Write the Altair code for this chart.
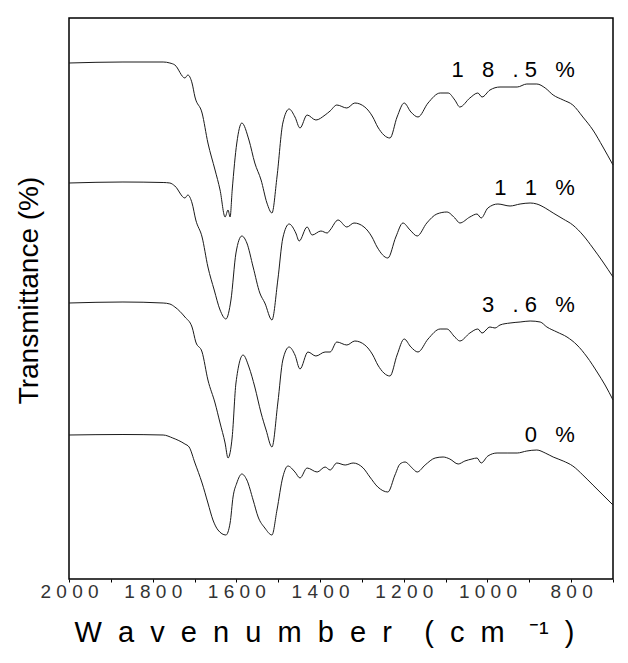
import altair as alt
import pandas as pd

NB = "\u00a0"
FONT = "Liberation Sans"

# ---- series data (wavenumber in cm-1, offset transmittance, arbitrary units) ----
wn_185 = [2000, 1871, 1775, 1759, 1747, 1723, 1716, 1706, 1699, 1682, 1668, 1651, 1639, 1627, 1620,
          1615, 1610, 1599, 1587, 1570, 1556, 1541, 1527, 1515, 1503, 1489, 1474, 1460, 1448, 1431,
          1410, 1388, 1376, 1360, 1336, 1317, 1293, 1274, 1262, 1233, 1216, 1199, 1183, 1166, 1142,
          1113, 1094, 1078, 1066, 1042, 1023, 1013, 994, 970, 946, 929, 906, 882, 862, 843,
          819, 796, 772, 748, 724, 700]
t_185 = [51.7, 51.8, 51.8, 51.7, 51.5, 50.2, 50.5, 49.7, 48.3, 46.7, 43.7, 41.0, 39.0, 36.3, 37.0,
         36.3, 39.0, 43.7, 45.7, 44.0, 41.7, 40.0, 37.7, 36.7, 40.3, 45.7, 47.1, 46.3, 45.2, 46.5,
         46.0, 46.5, 46.9, 47.5, 47.2, 47.7, 47.3, 46.3, 45.3, 44.2, 46.3, 47.7, 46.8, 46.3, 47.7,
         48.7, 48.7, 48.0, 47.3, 48.2, 48.7, 48.3, 49.0, 49.3, 49.3, 49.3, 49.6, 49.6, 49.2, 48.5,
         48.0, 47.5, 46.3, 45.0, 43.3, 41.5]

wn_11 = [2000, 1871, 1775, 1759, 1747, 1723, 1716, 1706, 1697, 1682, 1668, 1653, 1639, 1625, 1613,
         1601, 1587, 1575, 1560, 1544, 1532, 1515, 1501, 1489, 1474, 1458, 1450, 1431, 1419, 1398,
         1383, 1376, 1357, 1336, 1319, 1295, 1276, 1264, 1238, 1219, 1202, 1185, 1168, 1145, 1121,
         1097, 1078, 1066, 1042, 1025, 1015, 999, 975, 946, 922, 898, 882, 862, 843, 819,
         796, 772, 748, 724, 700]
t_11 = [39.7, 39.8, 39.75, 39.7, 39.4, 38.2, 38.5, 37.7, 36.0, 34.3, 31.3, 29.0, 27.0, 26.1, 28.0,
        32.7, 34.4, 33.7, 31.3, 28.7, 27.7, 26.0, 30.0, 34.2, 35.6, 34.7, 33.9, 35.3, 34.5, 34.9,
        34.7, 35.0, 36.0, 35.3, 35.7, 35.3, 34.3, 33.3, 32.2, 34.3, 35.7, 35.0, 34.4, 35.7, 36.6,
        36.8, 36.2, 35.7, 36.3, 36.6, 36.2, 37.2, 37.6, 37.4, 37.6, 37.7, 37.6, 37.2, 36.7, 36.1,
        35.5, 34.5, 33.2, 31.8, 30.3]

wn_36 = [2000, 1871, 1775, 1759, 1747, 1723, 1706, 1697, 1682, 1668, 1651, 1639, 1627, 1620, 1610,
         1601, 1584, 1570, 1556, 1541, 1529, 1515, 1501, 1489, 1474, 1460, 1448, 1429, 1410, 1388,
         1376, 1360, 1336, 1317, 1293, 1274, 1262, 1233, 1216, 1199, 1183, 1166, 1142, 1113, 1097,
         1078, 1066, 1042, 1023, 1013, 994, 982, 970, 946, 922, 898, 874, 858, 834, 810,
         786, 762, 738, 719, 700]
t_36 = [27.7, 27.8, 27.7, 27.6, 27.3, 26.3, 25.3, 23.8, 22.8, 20.0, 17.7, 15.7, 13.7, 12.2, 14.3,
        19.7, 22.5, 21.3, 19.3, 16.7, 15.0, 13.3, 17.7, 22.0, 23.3, 22.5, 21.1, 22.8, 22.4, 22.8,
        22.8, 23.8, 23.5, 23.9, 23.5, 22.5, 21.5, 20.4, 22.5, 24.1, 23.3, 22.8, 24.1, 25.1, 25.1,
        24.3, 23.9, 24.7, 25.1, 24.7, 25.3, 25.2, 25.5, 25.7, 25.8, 25.9, 25.8, 25.3, 24.8, 24.3,
        23.5, 22.3, 20.8, 19.5, 18.0]

wn_0 = [2000, 1871, 1775, 1752, 1723, 1713, 1699, 1682, 1668, 1656, 1644, 1625, 1615, 1608, 1599,
        1587, 1575, 1560, 1548, 1532, 1515, 1503, 1489, 1477, 1460, 1448, 1431, 1407, 1388, 1376,
        1360, 1340, 1321, 1297, 1281, 1262, 1238, 1221, 1209, 1197, 1180, 1168, 1149, 1125, 1106,
        1090, 1070, 1054, 1037, 1025, 1015, 999, 977, 953, 929, 906, 882, 862, 843, 819,
        796, 772, 748, 724, 700]
t_0 = [14.5, 14.55, 14.5, 14.2, 13.6, 13.3, 11.7, 9.7, 7.7, 6.0, 5.0, 4.5, 5.7, 8.3, 9.7,
       10.6, 10.0, 8.0, 6.3, 5.2, 4.5, 7.0, 10.3, 11.4, 10.8, 10.2, 11.2, 10.8, 11.3, 11.0,
       11.7, 11.5, 11.7, 11.2, 10.3, 9.3, 8.8, 10.5, 11.6, 11.8, 11.2, 10.8, 11.5, 12.2, 12.3,
       12.1, 11.6, 11.9, 12.1, 12.2, 11.7, 12.4, 12.7, 12.7, 12.7, 12.9, 13.0, 12.7, 12.3, 11.9,
       11.4, 10.5, 9.5, 8.5, 7.5]

series_names = ["18.5 %", "11 %", "3.6 %", "0 %"]
series_wn = [wn_185, wn_11, wn_36, wn_0]
series_t = [t_185, t_11, t_36, t_0]

# label positions (data units) and displayed (letter-spaced) label texts
label_wn = [791, 791, 791, 791]
label_t = [51.0, 39.2, 27.5, 14.55]
label_text = [
    "1" + NB * 3 + "8" + NB * 3 + "." + NB + "5" + NB * 3 + "%",
    "1" + NB * 3 + "1" + NB * 3 + "%",
    "3" + NB * 3 + "." + NB + "6" + NB * 3 + "%",
    "0" + NB * 3 + "%",
]

tick_values = list(range(700, 2001, 100))

rows = []
for name, ws, ts in zip(series_names, series_wn, series_t):
    for w, t in zip(ws, ts):
        rows.append({"series": name, "wn": w, "T": t})
df = pd.DataFrame(rows)
lab = pd.DataFrame({"series": series_names, "wn": label_wn, "T": label_t, "text": label_text})

x_title = (NB * 2).join("Wavenumber") + NB * 4 + (NB * 2).join("(cm") + NB * 3 + "\u207b\u00b9" + NB * 2 + ")"

x_scale = alt.Scale(domain=[700, 2000], reverse=True, nice=False, zero=False)
y_scale = alt.Scale(domain=[0.1, 56.2], nice=False, zero=False)

x_axis = alt.Axis(
    values=tick_values,
    labelExpr="datum.value % 200 == 0 ? join(split(format(datum.value, 'd'), ''), '" + NB + "') : ''",
    labelFont=FONT, labelFontSize=19, labelColor="#333333",
    labelOverlap=False, labelFlush=False, labelPadding=0,
    tickSize=3, tickColor="black", tickWidth=1,
    domain=False, grid=False,
    title=x_title, titleFont=FONT, titleFontSize=29, titleFontWeight="normal", titleColor="black",
    titleX=5, titleY=62, titleAlign="left", titleAnchor="start", titleBaseline="alphabetic",
)
y_axis = alt.Axis(
    labels=False, ticks=False, domain=False, grid=False,
    title="Transmittance (%)", titleFont=FONT, titleFontSize=28, titleFontWeight="normal",
    titleColor="black", titleX=-40, titleY=272, titleAlign="center", titleBaseline="middle",
)

lines = alt.Chart(df).mark_line(color="#1a1a1a", strokeWidth=1, interpolate="monotone").encode(
    x=alt.X("wn:Q", scale=x_scale, axis=x_axis),
    y=alt.Y("T:Q", scale=y_scale, axis=y_axis),
    detail="series:N",
)

labels = alt.Chart(lab).mark_text(
    align="right", baseline="middle", font=FONT, fontSize=22, color="black"
).encode(
    x=alt.X("wn:Q", scale=x_scale),
    y=alt.Y("T:Q", scale=y_scale),
    text="text:N",
)

chart = alt.layer(lines, labels).properties(
    width=544, height=561,
    autosize=alt.AutoSizeParams(type="none"),
    padding={"left": 69, "top": 18, "right": 15, "bottom": 84},
    background="white",
).configure_view(stroke="black", strokeWidth=1.5)

chart.save("out.html", embed_options={"renderer": "svg", "actions": False})
